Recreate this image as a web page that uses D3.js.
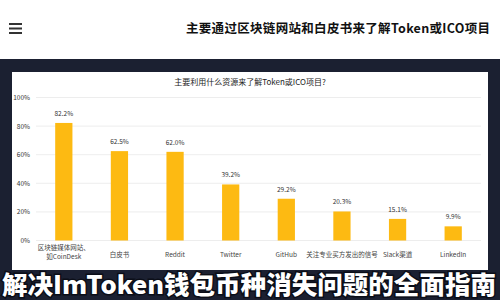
<!DOCTYPE html>
<html><head><meta charset="utf-8">
<script src="https://cdn.jsdelivr.net/npm/d3@7/dist/d3.min.js"></script>
<style>html,body{margin:0;padding:0;background:#fff;}svg{display:block;}</style>
</head><body>
<svg id="c" width="500" height="300"></svg>
<script>
const categories = ["区块链媒体网站、\n如CoinDesk","白皮书","Reddit","Twitter","GitHub","关注专业买方发出的信号","Slack渠道","LinkedIn"];
const values = [82.2, 62.5, 62.0, 39.2, 29.2, 20.3, 15.1, 9.9];
const yTicks = [0, 20, 40, 60, 80, 100];
const headerTitle = "主要通过区块链网站和白皮书来了解Token或ICO项目";
const chartTitle = "主要利用什么资源来了解Token或ICO项目?";
const bannerText = "解决ImToken钱包币种消失问题的全面指南";

const svg = d3.select("#c");
const font = "'Noto Sans CJK SC','Noto Sans',sans-serif";

// header
svg.append("rect").attr("x",0).attr("y",0).attr("width",500).attr("height",59).attr("fill","#fff");
[24,28.5,33].forEach(y=>svg.append("rect").attr("x",9).attr("y",y-1).attr("width",13).attr("height",2).attr("fill","#333"));
svg.append("text").attr("x",490).attr("y",33).attr("text-anchor","end")
  .attr("font-family",font).attr("font-weight","bold").attr("font-size",12.5).attr("fill","#111")
  .attr("textLength",304).text(headerTitle);

// dark background
svg.append("rect").attr("x",0).attr("y",59).attr("width",500).attr("height",241).attr("fill","#1b2031");
// panel
svg.append("rect").attr("x",12).attr("y",72).attr("width",476).attr("height",198).attr("fill","#fff");

svg.append("text").attr("x",250).attr("y",85).attr("text-anchor","middle")
  .attr("font-family",font).attr("font-size",8).attr("fill","#222").text(chartTitle);

const x = d3.scaleBand().domain(categories).range([36,481]).paddingInner(0.69).paddingOuter(0.345);
const y = d3.scaleLinear().domain([0,100]).range([240.5,97.5]);

const yAxis = d3.axisLeft(y).tickValues(yTicks).tickFormat(d=>d+"%").tickSize(0).tickPadding(6);
const gy = svg.append("g").attr("transform","translate(36,0)").call(yAxis);
gy.select(".domain").remove();
gy.selectAll("text").attr("font-family",font).attr("font-size",6.5).attr("fill","#333");

svg.append("g").selectAll("line").data(yTicks).join("line")
  .attr("x1",36).attr("x2",481).attr("y1",d=>y(d)).attr("y2",d=>y(d))
  .attr("stroke","#e8e8e8").attr("stroke-width",0.8);

svg.append("g").selectAll("rect").data(values).join("rect")
  .attr("x",(d,i)=>x(categories[i])).attr("width",x.bandwidth())
  .attr("y",d=>y(d)).attr("height",d=>y(0)-y(d)).attr("fill","#fdba12");

svg.append("g").selectAll("text").data(values).join("text")
  .attr("x",(d,i)=>x(categories[i])+x.bandwidth()/2).attr("y",d=>y(d)-7)
  .attr("text-anchor","middle").attr("font-family",font).attr("font-size",6.5).attr("fill","#333")
  .text(d=>d.toFixed(1)+"%");

const xAxis = d3.axisBottom(x).tickSize(0).tickFormat("");
const gx = svg.append("g").attr("transform","translate(0,240.5)").call(xAxis);
gx.select(".domain").remove();
categories.forEach(c=>{
  const lines = c.split("\n");
  const t = svg.append("text").attr("text-anchor","middle").attr("font-family",font)
    .attr("font-size",6.5).attr("fill","#444");
  const cx = x(c)+x.bandwidth()/2;
  if(lines.length===1){
    t.append("tspan").attr("x",cx).attr("y",257).text(lines[0]);
  } else {
    lines.forEach((l,k)=>t.append("tspan").attr("x",cx).attr("y",250+k*8.5).text(l));
  }
});

// banner text
const b = svg.append("text").attr("x",2).attr("y",294).attr("font-family",font).attr("font-weight","900")
  .attr("font-size",25).attr("textLength",494).attr("lengthAdjust","spacingAndGlyphs");
b.clone(true).attr("fill","none").attr("stroke","#0b0e18").attr("stroke-width",3).text(bannerText);
b.attr("fill","#fff").text(bannerText);
b.raise();
</script>
</body></html>
